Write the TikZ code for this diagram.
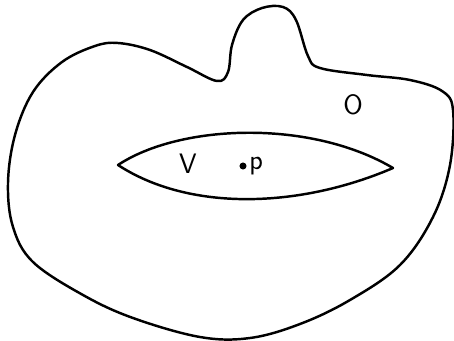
\documentclass[tikz,border=0pt]{standalone}
\usepackage{amsmath,amssymb}
\usetikzlibrary{positioning}

\begin{document}
\begin{tikzpicture}[
        x=0.03cm,
        y=-0.03cm,
        every node/.style={font=\sffamily\fontsize{24}{28}\selectfont},
        curve/.style={
            draw,
            line width=2.1pt,
            line join=round
        },
        lbl/.style={
            inner sep=1pt
        },
        pt/.style={
            circle,
            fill,
            minimum size=6pt,
            inner sep=0pt
        }
    ]
    \useasboundingbox (0,0) rectangle (454,340);

    % Outer set
    \draw[curve] plot[smooth cycle, tension=0.6] coordinates {
        (217,81) (187,67) (150,50) (118,43) (95,46) (62,62) (33,92)
        (15,135) (8,183) (13,227) (33,262) (83,295) (133,318) (200,337)
        (250,338) (300,324) (350,300) (400,265) (433,217) (450,165)
        (453,110) (442,91) (410,80) (367,75) (320,68) (308,56)
        (296,20) (283,7) (262,8) (243,20) (232,45) (228,72)
    };

    % Inner lens
    \coordinate (left) at (118,165);
    \coordinate (right) at (393,168);
    \draw[curve] (left) .. controls (180,124) and (310,119) .. (right)
        .. controls (300,208) and (190,212) .. (left) -- cycle;

    % Labels
    \node[lbl] (V) at (188,164) {V};
    \node[pt] (p) at (243,166) {};
    \node[lbl, right=1pt of p] (plbl) {p};
    \node[lbl] (O) at (353,105) {O};

\end{tikzpicture}
\end{document}
